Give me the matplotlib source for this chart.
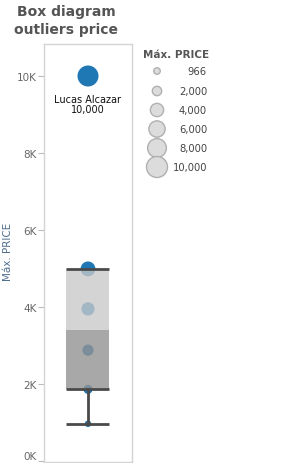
import numpy as np
import matplotlib.pyplot as plt

# --- Data ---
prices = np.array([10000, 4990, 3950, 2880, 1860, 966])
names = ['Lucas Alcazar', '', '', '', '', '']
legend_values = [966, 2000, 4000, 6000, 8000, 10000]
legend_labels = ['966', '2,000', '4,000', '6,000', '8,000', '10,000']
yticks = [0, 2000, 4000, 6000, 8000, 10000]
ytick_labels = ['0K', '2K', '4K', '6K', '8K', '10K']

# --- Box stats (Tukey hinges) ---
vals = np.sort(prices)
n = len(vals)
median = np.median(vals)
q1 = np.median(vals[:(n + 1) // 2])
q3 = np.median(vals[n // 2:])
iqr = q3 - q1
lo_whisk = vals[vals >= q1 - 1.5 * iqr].min()
hi_whisk = vals[vals <= q3 + 1.5 * iqr].max()

W, H = 283, 464
fig = plt.figure(figsize=(W / 100, H / 100), dpi=100)

def px_size(v, rmax=10.5):
    r = rmax * np.sqrt(np.asarray(v) / 10000.0)
    return (2 * r * 0.72) ** 2

# --- Main panel ---
ax = fig.add_axes([44 / W, 1 / H, 88 / W, 418 / H])
ax.set_xlim(0, 1)
ax.set_ylim(-26, 10831)

blue = '#1f77b4'
ax.scatter(np.full(n, 0.5), prices, s=px_size(prices), color=blue, zorder=2, linewidths=0)

x0, x1 = 0.25, 0.74
ax.fill_between([x0, x1], median, q3, color='#c8c8c8', alpha=0.78, zorder=3, linewidth=0)
ax.fill_between([x0, x1], q1, median, color='#939393', alpha=0.8, zorder=3, linewidth=0)
lc = '#4a4a4a'
ax.plot([x0, x1], [q3, q3], color=lc, lw=2, zorder=4, solid_capstyle='butt')
ax.plot([x0, x1], [q1, q1], color=lc, lw=2, zorder=4, solid_capstyle='butt')
ax.plot([x0, x1], [lo_whisk, lo_whisk], color=lc, lw=2, zorder=4, solid_capstyle='butt')
ax.plot([0.5, 0.5], [lo_whisk, q1], color=lc, lw=2, zorder=4)
if hi_whisk > q3:
    ax.plot([0.5, 0.5], [q3, hi_whisk], color=lc, lw=2, zorder=4)
    ax.plot([x0, x1], [hi_whisk, hi_whisk], color=lc, lw=2, zorder=4)

for p, nm in zip(prices, names):
    if nm:
        ax.annotate(f'{nm}\n{p:,}', (0.5, p), xytext=(0, -13), textcoords='offset points',
                    ha='center', va='top', fontsize=7, color='#111111', linespacing=1.0)

ax.set_xticks([])
ax.set_yticks(yticks)
ax.set_yticklabels(ytick_labels)
ax.tick_params(axis='y', length=4, width=0.8, color='#bbbbbb', labelcolor='#666666',
               labelsize=7.5, pad=1)
ax.get_yticklabels()[0].set_va('bottom')
for s in ax.spines.values():
    s.set_color('#d4d4d4')
    s.set_linewidth(1)
ax.set_ylabel('Máx. PRICE', fontsize=7.5, color='#4e6e8e')
ax.yaxis.set_label_coords(-0.35, (H - 252 - 1) / 418)

fig.text(66 / W, 1 - 21 / H, 'Box diagram\noutliers price', ha='center', va='center',
         fontsize=10, fontweight='bold', color='#555555', linespacing=1.35)

# --- Size legend ---
lax = fig.add_axes([0, 0, 1, 1])
lax.set_xlim(0, W)
lax.set_ylim(H, 0)
lax.axis('off')
lax.text(143, 55, 'Máx. PRICE', fontsize=7.5, fontweight='bold', color='#555555',
         ha='left', va='center')
ys = [72, 92, 111, 130, 149, 168]
lax.scatter([157] * len(legend_values), ys, s=px_size(legend_values), color='#dcdcdc',
            edgecolors='#b0b0b0', linewidths=1)
for y, lab in zip(ys, legend_labels):
    lax.text(207, y, lab, fontsize=7.2, color='#444444', ha='right', va='center')

fig.savefig('out.png', dpi=100)
